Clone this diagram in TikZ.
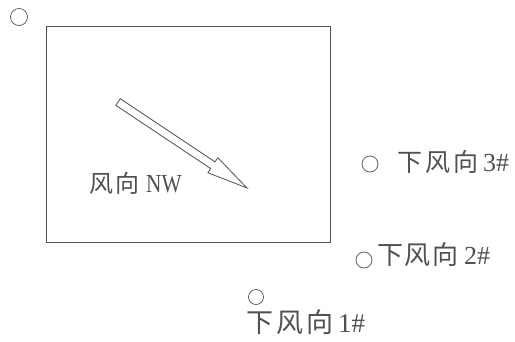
\documentclass[tikz,border=0pt]{standalone}
\usepackage{fontspec}
\setmainfont{Liberation Serif}
\newfontfamily\cjk{Noto Sans CJK SC}
\newfontfamily\narrow[FakeStretch=0.82]{Liberation Serif}
\definecolor{ink}{RGB}{80,80,80}
\newcommand{\gapc}[1]{\hspace{#1pt}}
\begin{document}
\begin{tikzpicture}[x=1pt,y=-1pt,
  site/.style={circle,draw=ink,line width=0.7pt,inner sep=0pt},
  lbl/.style={inner sep=0pt,text=ink,anchor=west}]
\useasboundingbox (0,0) rectangle (515,341);
\node[site,minimum size=17pt] (c0) at (19,17) {};
\node[draw=ink,line width=0.8pt,minimum width=284pt,minimum height=216pt,inner sep=0pt,anchor=north west] (area) at (46,26) {};
\begin{scope}[shift={(118,102)},rotate=-33.69]
  \draw[ink,line width=0.8pt,line join=miter] (0,-4) -- (114,-4) -- (114,-9) -- (155,0) -- (114,9) -- (114,4) -- (0,4) -- cycle;
\end{scope}
\node[lbl,font=\fontsize{24}{26}\selectfont] (wind) at (89,183) {{\cjk 风\gapc{2}向}\gapc{7}{\narrow\fontsize{26}{28}\selectfont NW}};
\node[site,minimum size=16pt] (c3) at (370,164) {};
\node[lbl,font=\fontsize{25}{27}\selectfont] (t3) at (397,162) {{\cjk 下\gapc{3}风\gapc{3}向}\gapc{5}{\fontsize{26}{28}\selectfont 3\#}};
\node[site,minimum size=16pt] (c2) at (364,260) {};
\node[lbl,font=\fontsize{26}{28}\selectfont] (t2) at (377,255) {{\cjk 下\gapc{1.5}风\gapc{1.5}向}\gapc{6}2\#};
\node[site,minimum size=15pt] (c1) at (256,297) {};
\node[lbl,font=\fontsize{27}{29}\selectfont] (t1) at (246,322) {{\cjk 下\gapc{3}风\gapc{3}向}\gapc{5}1\#};
\end{tikzpicture}
\end{document}
